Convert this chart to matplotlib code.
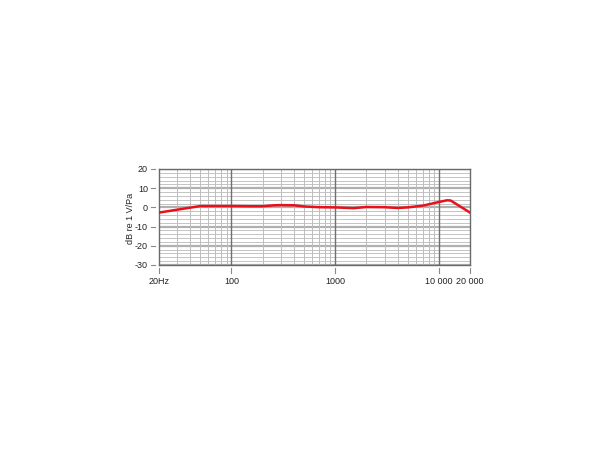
import matplotlib
matplotlib.use("Agg")
import matplotlib.pyplot as plt
from matplotlib.lines import Line2D
import numpy as np

freq_hz = [20, 30, 50, 100, 150, 200, 260, 300, 400, 500, 700, 1000, 1500, 2000, 3000,
           4000, 5000, 7000, 10000, 12000, 13000, 20000]
level_db = [-2.7, -1.2, 0.7, 0.7, 0.6, 0.6, 1.1, 1.2, 1.1, 0.5, 0.1, 0.0, -0.4, 0.2, 0.1,
            -0.3, 0.0, 0.9, 2.8, 3.7, 3.6, -2.7]

x_ticks = [20, 100, 1000, 10000, 20000]
x_tick_labels = ["20Hz", "100", "1000", "10 000", "20 000"]
y_ticks = [20, 10, 0, -10, -20, -30]
y_label = "dB re 1 V/Pa"

plt.rcParams['font.family'] = ['Liberation Sans', 'DejaVu Sans']

fig = plt.figure(figsize=(6.1, 4.5), dpi=100)
ax = fig.add_axes([159/610, (450-265)/450, 311/610, 96/450])

ax.set_xscale('log')
ax.set_xlim(20, 20000)
ax.set_ylim(-30, 20)

# grid lines
for v in np.arange(-30, 21, 2):
    if v % 10 == 0:
        ax.axhline(v, color='#b0b0b0', lw=1.6, zorder=1)
    else:
        ax.axhline(v, color='#c4c4c4', lw=0.7, zorder=1)
minor_x = [m * d for d in (10, 100, 1000, 10000) for m in range(2, 10) if 20 < m * d < 20000]
for v in minor_x:
    ax.axvline(v, color='#bdbdbd', lw=0.7, zorder=1)
for v in (100, 1000, 10000):
    ax.axvline(v, color='#707070', lw=1.0, zorder=1)

ax.plot(freq_hz, level_db, color='#e8111b', lw=1.8, zorder=3)

for s in ax.spines.values():
    s.set_color('#6a6a6a')
    s.set_linewidth(1.0)

ax.set_yticks(y_ticks)
ax.set_yticklabels([str(t) for t in y_ticks])
ax.set_xticks(x_ticks)
ax.set_xticklabels(x_tick_labels)
ax.xaxis.set_minor_locator(matplotlib.ticker.NullLocator())
ax.tick_params(axis='y', length=0, labelsize=6.5, labelcolor='#222222', pad=8)
ax.tick_params(axis='x', length=0, labelsize=6.5, labelcolor='#222222', pad=8.5)

# detached tick marks (gap from axis, as in the reference)
for t in y_ticks:
    ax.add_line(Line2D([-8/311, -4/311], [t, t], transform=ax.get_yaxis_transform(),
                       color='#8a8a8a', lw=0.8, clip_on=False))
for t in x_ticks:
    ax.add_line(Line2D([t, t], [-3/96, -7.5/96], transform=ax.get_xaxis_transform(),
                       color='#8a8a8a', lw=0.8, clip_on=False))

ax.set_ylabel(y_label, fontsize=6.5, color='#222222')
ax.yaxis.set_label_coords(-0.078, 0.49)

fig.savefig("out.png", dpi=100)
